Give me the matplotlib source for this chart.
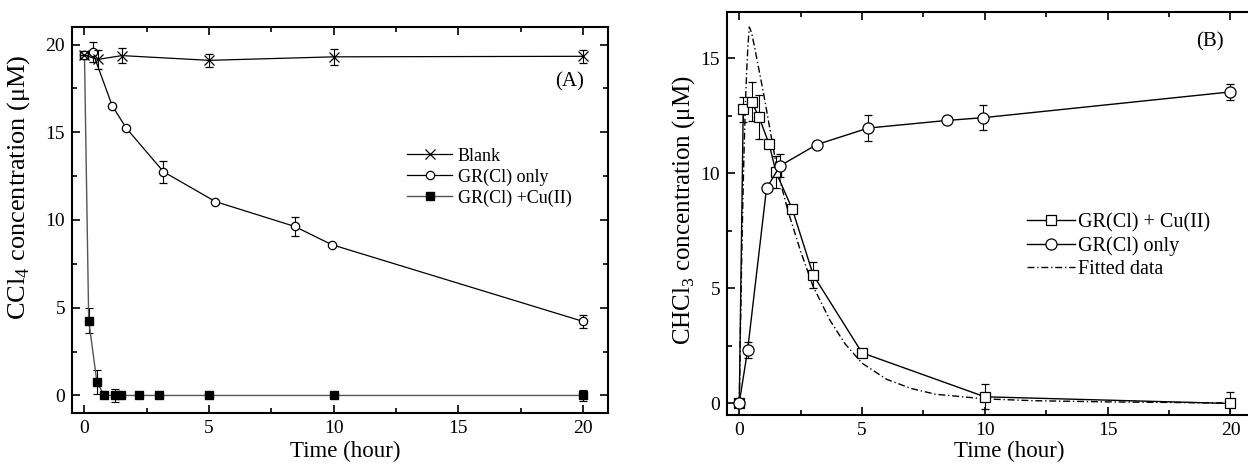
import matplotlib
matplotlib.use("Agg")
import matplotlib.pyplot as plt
from matplotlib.ticker import MultipleLocator
from matplotlib.lines import Line2D

plt.rcParams['font.family'] = ['Liberation Serif', 'DejaVu Serif']
plt.rcParams['mathtext.fontset'] = 'custom'
plt.rcParams['mathtext.rm'] = 'Liberation Serif'

# ---------------- Panel A data: CCl4 ----------------
blank_t = [0, 0.53, 1.5, 5.0, 10.0, 20.0]
blank_y = [19.4, 19.15, 19.37, 19.1, 19.3, 19.33]
blank_e = [0.0, 0.55, 0.45, 0.36, 0.47, 0.38]

gronly_t = [0, 0.33, 1.11, 1.68, 3.17, 5.25, 8.44, 9.91, 20.0]
gronly_y = [19.4, 19.56, 16.52, 15.23, 12.75, 11.05, 9.63, 8.6, 4.22]
gronly_e = [0.0, 0.57, 0.0, 0.0, 0.64, 0.0, 0.55, 0.0, 0.35]

grcu_t = [0, 0.17, 0.5, 0.79, 1.24, 1.48, 2.18, 3.0, 5.0, 10.0, 20.0]
grcu_y = [19.4, 4.27, 0.76, 0.0, 0.0, 0.0, 0.0, 0.0, 0.0, 0.0, 0.0]
grcu_e = [0.0, 0.71, 0.69, 0.0, 0.35, 0.0, 0.0, 0.0, 0.0, 0.0, 0.33]

# ---------------- Panel B data: CHCl3 ----------------
bcu_t = [0, 0.16, 0.5, 0.8, 1.22, 1.49, 2.16, 3.01, 5.0, 10.0, 20.0]
bcu_y = [0.0, 12.77, 13.1, 12.45, 11.25, 10.06, 8.44, 5.58, 2.2, 0.29, 0.0]
bcu_e = [0.0, 0.55, 0.85, 0.95, 0.0, 0.7, 0.0, 0.55, 0.0, 0.55, 0.5]

bonly_t = [0, 0.34, 1.11, 1.66, 3.15, 5.25, 8.44, 9.93, 20.0]
bonly_y = [0.03, 2.32, 9.35, 10.32, 11.24, 11.96, 12.29, 12.41, 13.53]
bonly_e = [0.0, 0.33, 0.0, 0.5, 0.0, 0.55, 0.0, 0.55, 0.35]

fit_t = [0, 0.05, 0.1, 0.15, 0.2, 0.25, 0.3, 0.35, 0.41, 0.5, 0.6, 0.8, 1.0,
         1.3, 1.5, 1.75, 2.0, 2.5, 3.0, 3.7, 4.3, 5.0, 6.0, 7.0, 8.0, 10.0,
         12.0, 15.0, 20.0]
fit_y = [0, 3.4, 6.4, 9.0, 11.2, 13.0, 14.4, 15.5, 16.35, 16.1, 15.6, 14.5, 13.4,
         11.6, 10.4, 9.3, 8.3, 6.6, 5.1, 3.6, 2.6, 1.75, 1.05, 0.65, 0.4, 0.2,
         0.12, 0.07, 0.02]

legendA = ['Blank', 'GR(Cl) only', 'GR(Cl) +Cu(II)']
legendB = ['GR(Cl) + Cu(II)', 'GR(Cl) only', 'Fitted data']

W, H = 1248, 470
fig = plt.figure(figsize=(W / 100, H / 100), dpi=100)

def px_axes(x0, x1, y0, y1):
    return fig.add_axes([x0 / W, 1 - y1 / H, (x1 - x0) / W, (y1 - y0) / H])

axA = px_axes(72, 608, 27, 413)
axB = px_axes(727, 1255, 12, 415)

def style(ax, right=True):
    for s in ax.spines.values():
        s.set_linewidth(1.5)
    ax.tick_params(which='both', direction='in', top=True, right=right,
                   labelsize=14, width=1.2)
    ax.tick_params(which='major', length=6)
    ax.tick_params(which='minor', length=3.5)
    ax.tick_params(axis='x', pad=5)
    ax.tick_params(axis='y', pad=5)
    ax.xaxis.set_major_locator(MultipleLocator(5))
    ax.xaxis.set_minor_locator(MultipleLocator(2.5))
    ax.yaxis.set_major_locator(MultipleLocator(5))
    ax.yaxis.set_minor_locator(MultipleLocator(2.5))

style(axA)
style(axB, right=False)

ekw = dict(elinewidth=0.8, capsize=3, capthick=0.8, ecolor='black')

# Panel A
cu_style = dict(color='#555555', lw=1.0, marker='s', ms=5.5, mfc='black', mec='black')
only_style = dict(color='black', lw=0.9, marker='o', ms=6, mfc='white', mec='black', mew=0.9)
blank_style = dict(color='black', lw=0.9, marker='x', ms=7, mec='black', mew=0.9)

axA.errorbar(grcu_t, grcu_y, yerr=grcu_e, zorder=2, **cu_style, **ekw)
axA.errorbar(gronly_t, gronly_y, yerr=gronly_e, zorder=3, **only_style, **ekw)
axA.errorbar(blank_t, blank_y, yerr=blank_e, zorder=4, **blank_style, **ekw)
axA.set_xlim(-0.5, 21)
axA.set_ylim(-1, 21)
axA.set_xlabel('Time (hour)', fontsize=16.5)
axA.set_ylabel('CCl$_4$ concentration (\u03bcM)', fontsize=19)
axA.xaxis.set_label_coords(0.509, -0.072)
axA.yaxis.set_label_coords(-0.075, 0.585)
axA.text(0.929, 0.857, '(A)', transform=axA.transAxes, fontsize=15,
         ha='center', va='center')
hA = [Line2D([], [], **blank_style), Line2D([], [], **only_style), Line2D([], [], **cu_style)]
axA.legend(hA, legendA, loc='center left',
           bbox_to_anchor=(0.625, 0.611), frameon=False, fontsize=13,
           handlelength=2.5, handletextpad=0.3, labelspacing=0.2,
           borderpad=0, borderaxespad=0)

# Panel B
fit_style = dict(linestyle='-.', color='black', lw=1.0, dashes=(5, 2, 1, 2))
bcu_style = dict(color='black', lw=1.0, marker='s', ms=7, mfc='white', mec='black', mew=0.9)
bonly_style = dict(color='black', lw=1.0, marker='o', ms=8, mfc='white', mec='black', mew=0.9)

axB.plot(fit_t, fit_y, zorder=2, **fit_style)
axB.errorbar(bcu_t, bcu_y, yerr=bcu_e, zorder=3, **bcu_style, **ekw)
axB.errorbar(bonly_t, bonly_y, yerr=bonly_e, zorder=4, **bonly_style, **ekw)
axB.set_xlim(-0.5, 21)
axB.set_ylim(-0.5, 17)
axB.set_xlabel('Time (hour)', fontsize=16.5)
axB.set_ylabel('CHCl$_3$ concentration (\u03bcM)', fontsize=18)
axB.xaxis.set_label_coords(0.534, -0.065)
axB.yaxis.set_label_coords(-0.056, 0.509)
axB.text(0.915, 0.926, '(B)', transform=axB.transAxes, fontsize=15,
         ha='center', va='center')
hB = [Line2D([], [], **bcu_style), Line2D([], [], **bonly_style), Line2D([], [], **fit_style)]
axB.legend(hB, legendB, loc='center left',
           bbox_to_anchor=(0.5676, 0.419), frameon=False, fontsize=14.5,
           handlelength=2.4, handletextpad=0.15, labelspacing=0.2,
           borderpad=0, borderaxespad=0)

fig.savefig('out.png', dpi=100)
